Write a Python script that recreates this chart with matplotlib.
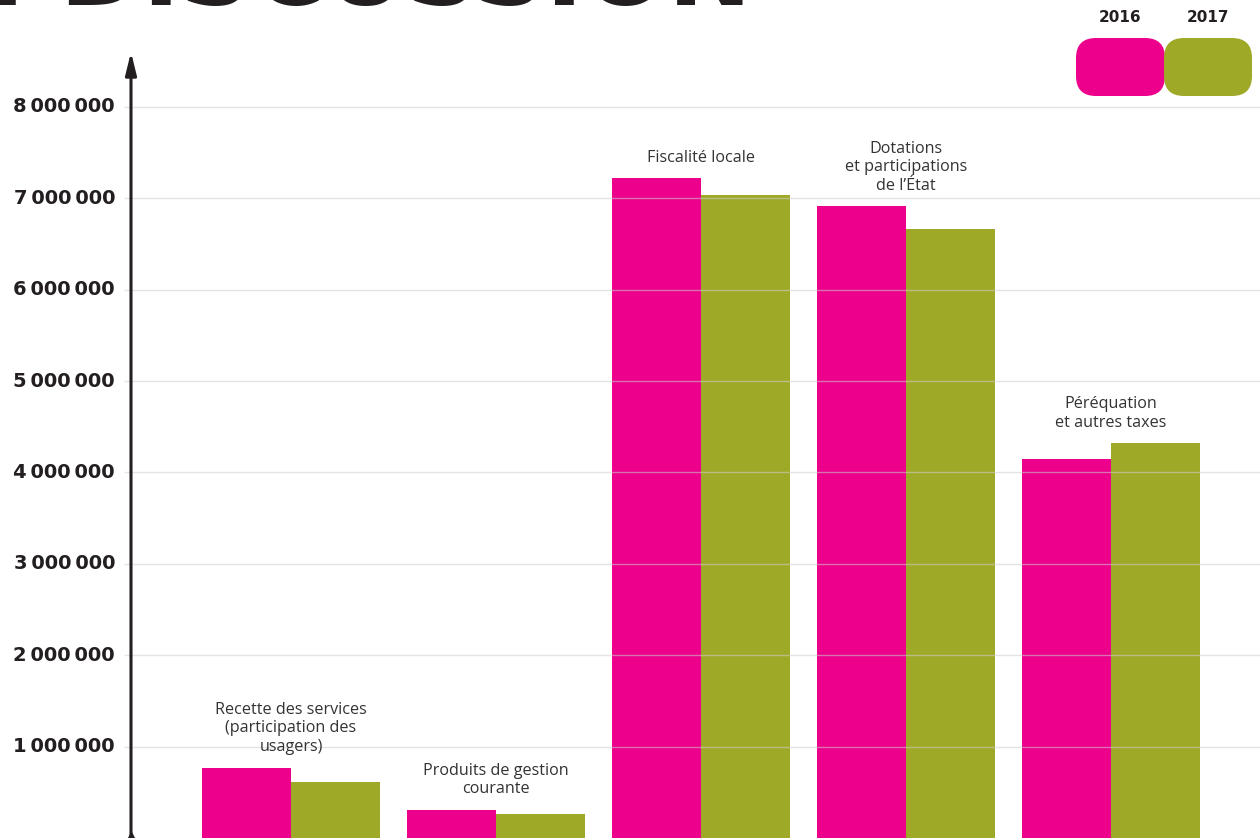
import matplotlib
matplotlib.use("Agg")
import matplotlib.pyplot as plt
from matplotlib.patches import FancyBboxPatch
import numpy as np

categories = [
    "Recette des services\n(participation des\nusagers)",
    "Produits de gestion\ncourante",
    "Fiscalité locale",
    "Dotations\net participations\nde l\u2019État",
    "Péréquation\net autres taxes",
]
values_2016 = [770000, 310000, 7220000, 6910000, 4150000]
values_2017 = [610000, 260000, 7040000, 6660000, 4320000]
series_labels = ["2016", "2017"]
ytick_values = [1000000, 2000000, 3000000, 4000000, 5000000, 6000000, 7000000, 8000000]
ytick_labels = ["1\u2009000\u2009000", "2\u2009000\u2009000", "3\u2009000\u2009000", "4\u2009000\u2009000",
                "5\u2009000\u2009000", "6\u2009000\u2009000", "7\u2009000\u2009000", "8\u2009000\u2009000"]

PINK = "#EC008C"
GREEN = "#9EAA27"
DARK = "#231F20"

W, H = 1260, 838
fig = plt.figure(figsize=(W / 100, H / 100), dpi=100)
fig.patch.set_facecolor("white")

ax = fig.add_axes([0, 0, 1, 1])
ax.set_facecolor("none")
for s in ax.spines.values():
    s.set_visible(False)
ax.set_xticks([])
ax.set_yticks([])

px_per_group = 205.0
x0_px = 291.0
ax.set_xlim(-x0_px / px_per_group, (W - x0_px) / px_per_group)
ymax = H / 91.4 * 1e6
ax.set_ylim(0, ymax)

def px2x(p):
    return (p - x0_px) / px_per_group

x = np.arange(len(categories))
bw = 89.0 / px_per_group
ax.bar(x - bw / 2, values_2016, bw, color=PINK, zorder=2, linewidth=0)
ax.bar(x + bw / 2, values_2017, bw, color=GREEN, zorder=2, linewidth=0)

# gridlines over bars
ax.hlines(ytick_values, px2x(124), px2x(W), colors="#cfcfcf", linewidth=1.0, alpha=0.55, zorder=3)

# tick labels
for v, lab in zip(ytick_values, ytick_labels):
    ax.text(px2x(115), v, lab, ha="right", va="center", fontsize=14,
            fontweight="heavy", color=DARK, family="DejaVu Sans", zorder=4)

# y axis arrow
xa = px2x(131)
ax.annotate("", xy=(xa, (H - 52) / 91.4 * 1e6), xytext=(xa, 0),
            arrowprops=dict(arrowstyle="-|>,head_length=0.9,head_width=0.22",
                            mutation_scale=15, lw=2.2, color=DARK,
                            shrinkA=0, shrinkB=0),
            zorder=5, annotation_clip=False)
ax.plot([xa], [0], marker="^", ms=9, color=DARK, clip_on=False, zorder=5)

# category labels
for i, lab in enumerate(categories):
    top = max(values_2016[i], values_2017[i])
    ax.annotate(lab, xy=(x[i], top), xytext=(0, 9), textcoords="offset points",
                ha="center", va="bottom", fontsize=11.6, color="#333333",
                family="Open Sans", linespacing=1.22, zorder=4)

# overlay in pixel coordinates for decorations
ov = fig.add_axes([0, 0, 1, 1])
ov.set_facecolor("none")
ov.set_xlim(0, W)
ov.set_ylim(H, 0)
ov.axis("off")

# title cut at the top
ov.text(752, 5, "EN DISCUSSION", ha="right", va="baseline", fontsize=72,
        fontweight="heavy", color=DARK, family="DejaVu Sans")

# legend
r = 20
for (xl, xr), col, lab in [((1076, 1165), PINK, series_labels[0]), ((1164, 1252), GREEN, series_labels[1])]:
    y0, y1 = 38, 96
    p = FancyBboxPatch((xl + r, y0 + r), (xr - xl) - 2 * r, (y1 - y0) - 2 * r,
                       boxstyle=f"round,pad={r}", facecolor=col, edgecolor="none")
    ov.add_patch(p)
    ov.text((xl + xr) / 2, 18, lab, ha="center", va="center", fontsize=11,
            fontweight="bold", color=DARK, family="DejaVu Sans")

fig.savefig("out.png", dpi=100)
